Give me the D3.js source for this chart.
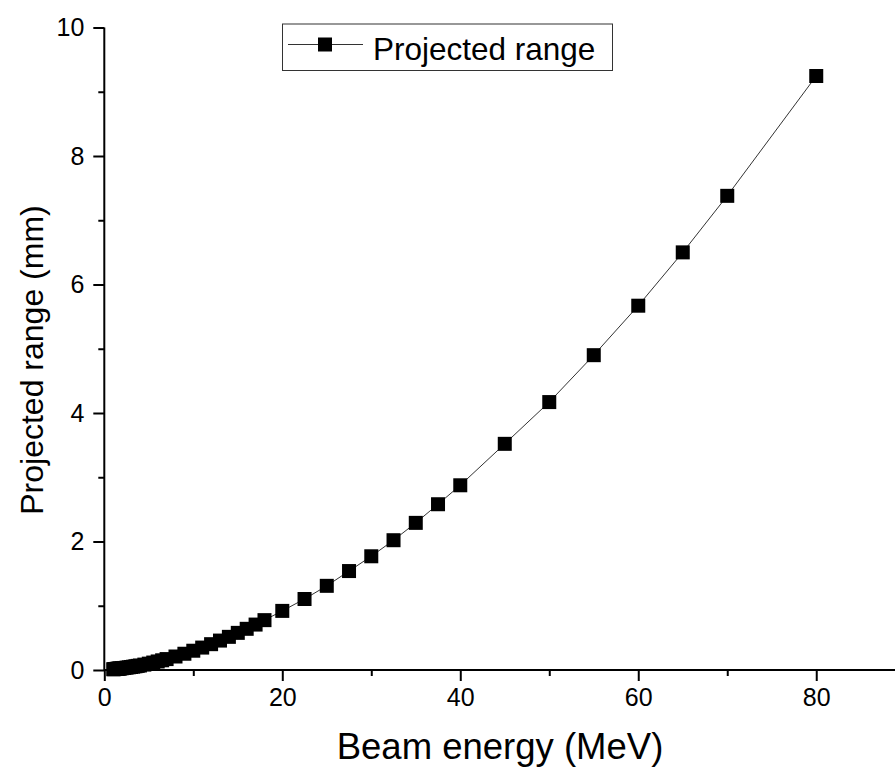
<!DOCTYPE html>
<html><head><meta charset="utf-8">
<script src="https://cdn.jsdelivr.net/npm/d3@7"></script>
<style>body{margin:0;background:#fff}svg{display:block}text{font-family:"Liberation Sans",Arial,sans-serif;fill:#000}</style>
</head><body><div id="chart"></div>
<script>
const energies = [1.0,1.1,1.2,1.3,1.4,1.5,1.6,1.7,1.8,2.0,2.25,2.5,2.75,3.0,3.25,3.5,3.75,4.0,4.5,5.0,5.5,6.0,6.5,7.0,8.0,9.0,10,11,12,13,14,15,16,17,18,20,22.5,25,27.5,30,32.5,35,37.5,40,45,50,55,60,65,70,80];
const ranges = [0.012,0.013,0.015,0.016,0.018,0.019,0.021,0.023,0.024,0.028,0.032,0.037,0.042,0.047,0.052,0.058,0.064,0.070,0.084,0.099,0.116,0.133,0.151,0.170,0.210,0.253,0.300,0.349,0.402,0.458,0.516,0.578,0.641,0.707,0.776,0.92,1.105,1.31,1.54,1.77,2.02,2.29,2.58,2.875,3.52,4.17,4.90,5.67,6.50,7.38,9.245];
const xMajorTicks = [0,20,40,60,80];
const xMinorTicks = [10,30,50,70];
const yMajorTicks = [0,2,4,6,8,10];
const yMinorTicks = [1,3,5,7,9];
const seriesName = "Projected range";
const xTitle = "Beam energy (MeV)";
const yTitle = "Projected range (mm)";

const W = 895, H = 770;
const svg = d3.select("#chart").append("svg").attr("width", W).attr("height", H);
const x = d3.scaleLinear().domain([0, 88.85]).range([104.3, 895]);
const y = d3.scaleLinear().domain([0, 10]).range([670, 27.5]);
const data = energies.map((e, i) => ({e, r: ranges[i]}));

svg.append("path").datum(data)
  .attr("fill", "none").attr("stroke", "#333").attr("stroke-width", 1)
  .attr("d", d3.line().x(d => x(d.e)).y(d => y(d.r)));

const ms = 14;
svg.append("g").selectAll("rect").data(data).join("rect")
  .attr("x", d => x(d.e) - ms/2).attr("y", d => y(d.r) - ms/2)
  .attr("width", ms).attr("height", ms).attr("fill", "#000");

const fs = 25;
const xAxis = svg.append("g").attr("transform", `translate(0,${y(0)})`)
  .call(d3.axisBottom(x).tickValues(xMajorTicks).tickSize(11).tickPadding(7).tickFormat(d3.format("d")));
svg.append("g").attr("transform", `translate(0,${y(0)})`)
  .call(d3.axisBottom(x).tickValues(xMinorTicks).tickSize(6).tickFormat(""))
  .select(".domain").remove();
const yAxis = svg.append("g").attr("transform", `translate(${x(0)},0)`)
  .call(d3.axisLeft(y).tickValues(yMajorTicks).tickSize(11).tickPadding(9).tickFormat(d3.format("d")));
svg.append("g").attr("transform", `translate(${x(0)},0)`)
  .call(d3.axisLeft(y).tickValues(yMinorTicks).tickSize(6).tickFormat(""))
  .select(".domain").remove();
svg.selectAll(".domain").attr("stroke", "#000").attr("stroke-width", 2);
svg.selectAll(".tick line").attr("stroke", "#000").attr("stroke-width", 2);
svg.selectAll(".tick text").style("font-size", fs + "px").style("font-family", '"Liberation Sans",Arial,sans-serif').attr("fill", "#000");
xAxis.select(".domain").attr("d", `M${x(0)},0H${W}`);
yAxis.select(".domain").attr("d", `M0,${y(10)}V${y(0)}`);

svg.append("text").attr("x", 500).attr("y", 759).attr("text-anchor", "middle")
  .style("font-size", "36.5px").text(xTitle);
svg.append("text").attr("transform", `translate(43,360) rotate(-90)`).attr("text-anchor", "middle")
  .style("font-size", "32px").text(yTitle);

const lg = svg.append("g");
lg.append("rect").attr("x", 282.5).attr("y", 24).attr("width", 330).attr("height", 46.5)
  .attr("fill", "#fff").attr("stroke", "#333").attr("stroke-width", 1);
lg.append("line").attr("x1", 288).attr("x2", 363).attr("y1", 44.5).attr("y2", 44.5)
  .attr("stroke", "#333").attr("stroke-width", 1);
lg.append("rect").attr("x", 325 - 7).attr("y", 44.5 - 7).attr("width", 14).attr("height", 14).attr("fill", "#000");
lg.append("text").attr("x", 373).attr("y", 60).style("font-size", "31.5px").text(seriesName);
</script></body></html>
